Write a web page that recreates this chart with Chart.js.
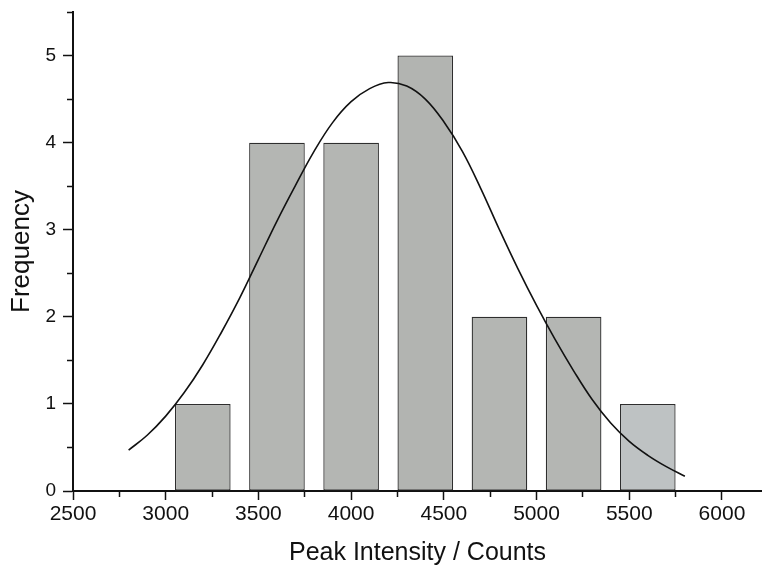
<!DOCTYPE html>
<html>
<head>
<meta charset="utf-8">
<script src="https://cdn.jsdelivr.net/npm/chart.js@4.4.1/dist/chart.umd.min.js"></script>
<style>
  html, body { margin: 0; padding: 0; background: #ffffff; }
  #wrap { width: 762px; height: 571px; position: relative; }
</style>
</head>
<body>
<div id="wrap"><canvas id="c" width="762" height="571"></canvas></div>
<script>
// ---- data ----
const binCenters = [3200, 3600, 4000, 4400, 4800, 5200, 5600];
const frequencies = [1, 4, 4, 5, 2, 2, 1];

// fitted curve, every 100 counts
const fitX = [2800, 2900, 3000, 3100, 3200, 3300, 3400, 3500, 3600, 3700, 3800, 3900, 4000, 4100, 4200, 4300, 4400, 4500, 4600, 4700, 4800, 4900, 5000, 5100, 5200, 5300, 5400, 5500, 5600, 5700, 5800];
const fitY = [0.47, 0.64, 0.86, 1.13, 1.45, 1.82, 2.22, 2.66, 3.10, 3.51, 3.90, 4.23, 4.47, 4.62, 4.69, 4.65, 4.50, 4.24, 3.90, 3.47, 3.00, 2.55, 2.13, 1.74, 1.38, 1.05, 0.78, 0.57, 0.41, 0.28, 0.17];

const xTickValues = [2500, 2750, 3000, 3250, 3500, 3750, 4000, 4250, 4500, 4750, 5000, 5250, 5500, 5750, 6000];
const yTickValues = [0, 0.5, 1, 1.5, 2, 2.5, 3, 3.5, 4, 4.5, 5, 5.5];

const xTitle = 'Peak Intensity / Counts';
const yTitle = 'Frequency';

// ---- build ----
const barData = binCenters.map((c, i) => ({ x: c, y: frequencies[i] }));
const fitData = fitX.map((x, i) => ({ x: x, y: fitY[i] }));

const FONT = '"Liberation Sans", Arial, sans-serif';
const isMajorX = v => v % 500 === 0;
const isMajorY = v => v % 1 === 0;

new Chart(document.getElementById('c'), {
  type: 'bar',
  data: {
    datasets: [
      {
        type: 'line',
        data: fitData,
        borderColor: '#111111',
        borderWidth: 1.6,
        pointRadius: 0,
        fill: false,
        tension: 0.4,
        order: 0
      },
      {
        type: 'bar',
        data: barData,
        backgroundColor: ['#b4b6b3', '#b4b6b3', '#b4b6b3', '#b2b4b1', '#b4b6b3', '#b4b6b3', '#bec2c3'],
        borderColor: '#2e2e2e',
        borderWidth: 1.3,
        borderSkipped: false,
        barPercentage: 1.2,
        categoryPercentage: 1.0,
        order: 1
      }
    ]
  },
  options: {
    responsive: false,
    animation: false,
    devicePixelRatio: 1,
    layout: { padding: { top: 12, right: 0, bottom: 0, left: 0 } },
    plugins: { legend: { display: false }, tooltip: { enabled: false }, title: { display: false } },
    scales: {
      x: {
        type: 'linear',
        min: 2500,
        max: 6216,
        offset: false,
        afterBuildTicks: (scale) => { scale.ticks = xTickValues.map(v => ({ value: v })); },
        afterFit: (scale) => { scale.height = 80; scale.paddingLeft = 0; scale.paddingRight = 0; },
        ticks: {
          autoSkip: false,
          maxRotation: 0,
          minRotation: 0,
          padding: 2,
          color: '#111111',
          font: { family: FONT, size: 21 },
          callback: (v) => isMajorX(v) ? String(v) : ''
        },
        grid: {
          display: true,
          offset: false,
          drawOnChartArea: false,
          drawTicks: true,
          tickLength: 9,
          tickColor: '#111111',
          tickWidth: 1.5,
          tickBorderDash: (ctx) => (ctx.tick && isMajorX(ctx.tick.value)) ? [] : [5, 40]
        },
        border: { display: true, color: '#111111', width: 2 },
        title: {
          display: true,
          text: xTitle,
          color: '#111111',
          font: { family: FONT, size: 25 },
          padding: { top: 0, bottom: 3 }
        }
      },
      y: {
        type: 'linear',
        min: 0,
        max: 5.5,
        afterBuildTicks: (scale) => { scale.ticks = yTickValues.map(v => ({ value: v })); },
        afterFit: (scale) => { scale.width = 73; scale.paddingTop = 0; scale.paddingBottom = 0; },
        ticks: {
          autoSkip: false,
          padding: 7,
          color: '#111111',
          font: { family: FONT, size: 19 },
          callback: (v) => isMajorY(v) ? String(v) : ''
        },
        grid: {
          display: true,
          offset: false,
          drawOnChartArea: false,
          drawTicks: true,
          tickLength: 10,
          tickColor: '#111111',
          tickWidth: 1.5,
          tickBorderDash: (ctx) => (ctx.tick && isMajorY(ctx.tick.value)) ? [] : [0, 4, 6, 40]
        },
        border: { display: true, color: '#111111', width: 2 },
        title: {
          display: true,
          text: yTitle,
          color: '#111111',
          font: { family: FONT, size: 26 },
          padding: { top: 6, bottom: 0 }
        }
      }
    }
  }
});
</script>
</body>
</html>
